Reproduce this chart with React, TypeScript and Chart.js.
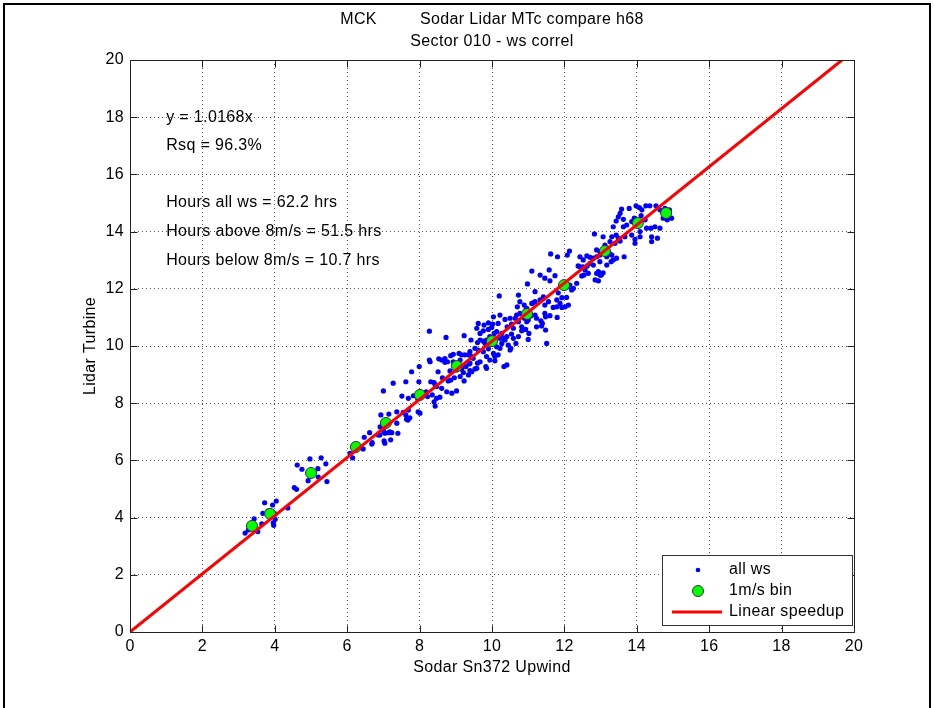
import React, { useEffect, useRef } from 'react';
import { Chart, registerables } from 'chart.js';

Chart.register(...registerables);

// ---------------- data ----------------
const titleLines = ['MCK         Sodar Lidar MTc compare h68', 'Sector 010 - ws correl'];
const xAxisTitle = 'Sodar Sn372 Upwind';
const yAxisTitle = 'Lidar Turbine';
const seriesLabels = ['all ws', '1m/s bin', 'Linear speedup'];
const annotationLines = [
  'y = 1.0168x',
  'Rsq = 96.3%',
  'Hours all ws = 62.2 hrs',
  'Hours above 8m/s = 51.5 hrs',
  'Hours below 8m/s = 10.7 hrs',
];

// all ws scatter: [Sodar ws, Lidar ws]
const allWs: [number, number][] = [
  [3.27, 3.57], [3.53, 3.51], [3.43, 3.96], [3.64, 3.78], [3.67, 4.15], [3.81, 4.23], [4.01, 4.13], [4.01, 3.94],
  [3.96, 3.82], [3.97, 3.73], [3.72, 4.52], [4.04, 4.58], [3.94, 4.44], [4.36, 4.34], [3.31, 3.67], [3.18, 3.46],
  [4.54, 5.05], [4.60, 4.99], [4.62, 5.84], [4.75, 5.69], [4.97, 6.05], [5.28, 6.09], [5.41, 5.88], [5.19, 5.71],
  [5.20, 5.42], [4.92, 5.29], [5.44, 5.26],
  [6.08, 6.25], [6.15, 6.09], [6.44, 6.40], [6.47, 6.81], [6.62, 6.97], [6.69, 6.62], [6.68, 6.57], [6.91, 7.17],
  [6.90, 6.89], [7.04, 6.95], [7.14, 6.97], [7.23, 6.97], [7.20, 6.72], [7.02, 6.68], [7.40, 6.95], [7.04, 6.60],
  [6.86, 6.89], [7.00, 7.04], [7.68, 7.41], [7.18, 7.00],
  [6.93, 7.59], [7.15, 7.62], [7.37, 7.70], [7.55, 7.68], [7.69, 7.76], [7.73, 7.49], [7.62, 7.59], [7.37, 7.30],
  [7.64, 7.44], [7.96, 7.70], [8.01, 7.65], [7.27, 8.70], [7.00, 8.43], [7.51, 8.25], [7.69, 8.17], [7.83, 8.26],
  [7.95, 8.15], [7.62, 8.75], [7.98, 8.75], [8.18, 8.40], [8.22, 8.23], [8.35, 8.29], [8.40, 8.05], [8.47, 8.17],
  [8.43, 7.90], [8.31, 8.75], [8.40, 8.72], [8.43, 8.64], [8.47, 8.58], [8.61, 8.52], [8.75, 8.40], [8.89, 8.35],
  [9.02, 8.43], [8.63, 8.89], [8.79, 8.78], [8.86, 8.81], [8.96, 8.89], [9.12, 8.93], [9.23, 8.78], [8.56, 8.21],
  [7.99, 9.28], [7.78, 9.10], [8.27, 9.51], [8.29, 9.45],
  [8.53, 9.55], [8.61, 9.51], [8.70, 9.56], [8.86, 9.66], [8.93, 9.71], [9.09, 9.74], [9.16, 9.69], [9.25, 9.69],
  [9.35, 9.69], [9.42, 9.65], [9.48, 9.57], [8.70, 9.43], [8.77, 9.45], [8.84, 9.13], [8.51, 9.10], [9.16, 9.19],
  [9.21, 9.07], [9.37, 9.37], [9.28, 9.28], [9.44, 9.10], [9.35, 8.99], [9.60, 9.40], [9.58, 9.22], [8.73, 10.30],
  [8.27, 10.52], [9.23, 10.36], [9.42, 10.21], [9.60, 10.12], [9.67, 10.21], [8.93, 9.45], [9.12, 9.51], [9.18, 9.28],
  [9.02, 9.16], [9.39, 9.14], [9.53, 9.20], [9.39, 9.40], [9.67, 9.45], [9.83, 9.28], [9.76, 10.17], [9.62, 9.86],
  [9.76, 9.80], [9.90, 9.90], [10.04, 9.74], [10.13, 9.97], [10.22, 9.92], [10.27, 10.09], [10.36, 10.21], [10.45, 10.03],
  [10.52, 9.92], [10.17, 9.69], [10.08, 9.48], [10.33, 9.28], [10.41, 9.34], [9.53, 9.92], [9.39, 9.80], [9.85, 9.63],
  [9.85, 9.22], [9.81, 10.09], [9.94, 9.51], [10.50, 9.86], [10.08, 9.63],
  [9.62, 10.79], [9.78, 10.73], [9.90, 10.81], [10.04, 11.02], [10.22, 11.08], [10.17, 10.79], [10.36, 10.93], [10.42, 10.67],
  [10.50, 10.97], [10.64, 10.97], [10.54, 10.77], [10.68, 11.08], [10.77, 11.14], [10.89, 11.43], [10.96, 11.32], [11.10, 11.49],
  [11.19, 11.55], [10.70, 11.37], [10.89, 10.97], [11.00, 10.91], [11.07, 11.05], [11.19, 11.08], [11.23, 10.97], [11.35, 10.88],
  [11.39, 10.79], [11.48, 11.02], [11.60, 11.06], [11.69, 11.35], [11.79, 11.37], [11.93, 11.35], [12.02, 11.37], [11.80, 11.00],
  [9.58, 10.62], [9.67, 10.44], [9.76, 10.53], [9.90, 10.58], [9.99, 10.65], [10.06, 10.44], [10.13, 10.50], [10.27, 10.44],
  [10.31, 10.27], [10.41, 10.33], [10.54, 10.42], [10.59, 10.27], [10.66, 10.09], [10.73, 10.33], [10.82, 10.53], [10.93, 10.58],
  [11.02, 10.44], [11.23, 10.67], [11.37, 10.70], [11.48, 10.56], [11.51, 10.09], [11.00, 10.23], [10.59, 10.62], [10.73, 10.85],
  [10.82, 10.67], [10.96, 10.85], [10.02, 10.77], [9.94, 10.33], [9.85, 10.21], [10.22, 10.27], [11.46, 11.14],
  [10.73, 11.78], [10.77, 11.55], [10.94, 11.26], [11.14, 11.51], [11.19, 11.90], [11.33, 11.61], [11.42, 11.72], [11.46, 11.43],
  [11.56, 11.55], [11.79, 11.61], [11.83, 11.86], [11.88, 11.49], [12.06, 11.70], [12.11, 11.43], [10.20, 11.75], [11.10, 12.62],
  [11.33, 12.48], [11.46, 12.37], [11.58, 12.66], [11.74, 12.46], [11.60, 12.28], [10.98, 12.17], [12.09, 12.07], [12.15, 12.13],
  [12.20, 11.96], [11.93, 11.69], [12.25, 12.02], [12.34, 12.19], [12.38, 12.80], [12.51, 12.77], [12.57, 12.66], [12.63, 12.80],
  [12.54, 12.48], [12.66, 12.54], [11.62, 13.22], [11.81, 13.12], [12.08, 13.18], [12.14, 13.32], [12.62, 13.15], [12.71, 13.10],
  [12.80, 13.07], [12.89, 13.12], [12.98, 13.18], [12.43, 12.77], [12.71, 12.89], [12.48, 12.45], [12.94, 12.60], [12.98, 12.48],
  [13.07, 12.56], [13.21, 13.30], [13.26, 13.22], [13.17, 13.12], [13.35, 13.01], [13.65, 13.12], [13.31, 13.18],
  [13.58, 14.79], [13.79, 14.81], [13.98, 14.90], [14.07, 14.84], [14.14, 14.76], [14.25, 14.90], [14.36, 14.90], [14.53, 14.90],
  [14.64, 14.76], [14.78, 14.81], [14.90, 14.76], [14.96, 14.47], [14.84, 14.41], [14.73, 14.47], [13.54, 14.64], [13.49, 14.52],
  [13.43, 14.37], [13.35, 14.17], [13.63, 14.43], [13.63, 14.17], [13.72, 14.23], [13.86, 14.35], [13.93, 14.47], [14.12, 14.56],
  [14.23, 14.41], [14.27, 14.12], [14.39, 14.12], [14.50, 14.17], [14.64, 14.12], [14.09, 14.00], [14.09, 13.82], [12.83, 13.92],
  [13.07, 13.82], [13.31, 13.82], [13.43, 13.88], [13.49, 13.77], [13.40, 13.59], [13.26, 13.65], [13.12, 13.53], [13.17, 13.42],
  [13.54, 13.67], [13.67, 13.82], [13.86, 13.88], [13.95, 13.73], [13.95, 13.59], [14.41, 13.82], [14.41, 13.65], [14.57, 13.77],
  [12.43, 13.12], [12.52, 13.01], [12.89, 13.36], [12.98, 13.30], [13.07, 13.24], [13.29, 12.95], [13.17, 12.83], [13.44, 13.07],
  [12.98, 12.95], [12.80, 12.83], [12.89, 12.54], [13.02, 12.48], [12.85, 12.31], [12.94, 12.28],
];

// 1 m/s bin averages
const binX = [3.37, 3.87, 5.0, 6.24, 7.07, 8.01, 9.03, 10.0, 10.97, 11.99, 13.12, 14.03, 14.81];
const binY = [3.71, 4.13, 5.56, 6.47, 7.31, 8.29, 9.3, 10.17, 11.12, 12.13, 13.32, 14.3, 14.65];

// linear speedup fit line endpoints (y = 1.0168x)
const lineX = [0, 19.67];
const lineY = [0, 20];

// axis ranges / ticks
const axisMin = 0;
const axisMax = 20;
const tickStep = 2;

// ---------------- styles ----------------
const FONT_FAMILY = "'Liberation Sans', Arial, Helvetica, sans-serif";
const FONT_SIZE = 16;
const LETTER_SPACING = '0.35px';

const matlabPlugin = {
  id: 'matlabLook',
  beforeDraw(chart: any) {
    (chart.ctx as any).letterSpacing = LETTER_SPACING;
  },
  afterDraw(chart: any) {
    const { ctx, chartArea: a, scales } = chart;
    const xs = scales.x;
    const ys = scales.y;
    ctx.save();
    (ctx as any).letterSpacing = LETTER_SPACING;

    // figure frame
    ctx.strokeStyle = '#000';
    ctx.lineWidth = 2;
    ctx.beginPath();
    ctx.moveTo(4, 720);
    ctx.lineTo(4, 4);
    ctx.lineTo(930, 4);
    ctx.lineTo(930, 720);
    ctx.stroke();

    // axes box
    const L = Math.round(a.left) + 0.5;
    const R = Math.round(a.right) + 0.5;
    const T = Math.round(a.top) + 0.5;
    const B = Math.round(a.bottom) + 0.5;
    ctx.lineWidth = 1;
    ctx.strokeStyle = '#222';
    ctx.beginPath();
    ctx.rect(L, T, R - L, B - T);
    ctx.stroke();

    // inner tick marks on all four sides
    const TL = 7;
    ctx.beginPath();
    xs.ticks.forEach((t: any) => {
      const px = Math.round(xs.getPixelForValue(t.value)) + 0.5;
      ctx.moveTo(px, B);
      ctx.lineTo(px, B - TL);
      ctx.moveTo(px, T);
      ctx.lineTo(px, T + TL);
    });
    ys.ticks.forEach((t: any) => {
      const py = Math.round(ys.getPixelForValue(t.value)) + 0.5;
      ctx.moveTo(L, py);
      ctx.lineTo(L + TL, py);
      ctx.moveTo(R, py);
      ctx.lineTo(R - TL, py);
    });
    ctx.stroke();

    // titles
    ctx.fillStyle = '#000';
    ctx.font = `${FONT_SIZE}px ${FONT_FAMILY}`;
    ctx.textAlign = 'center';
    ctx.textBaseline = 'middle';
    const cx = (a.left + a.right) / 2;
    ctx.fillText(titleLines[0], cx, 20);
    ctx.fillText(titleLines[1], cx, 42);
    ctx.fillText(xAxisTitle, cx, 668);
    ctx.save();
    ctx.translate(91, (a.top + a.bottom) / 2);
    ctx.rotate(-Math.PI / 2);
    ctx.fillText(yAxisTitle, 0, 0);
    ctx.restore();

    // annotations (anchored in data coordinates)
    const annX = 1;
    const annY = [18, 17, 15, 14, 13];
    ctx.textAlign = 'left';
    annotationLines.forEach((s, i) => {
      ctx.fillText(s, xs.getPixelForValue(annX), ys.getPixelForValue(annY[i]));
    });

    // legend box (bottom-right inside axes)
    const lw = 190;
    const lh = 70;
    const lx = Math.round(a.right) - 2 - lw;
    const ly = Math.round(a.bottom) - 7 - lh;
    ctx.fillStyle = '#fff';
    ctx.fillRect(lx, ly, lw, lh);
    ctx.strokeStyle = '#333';
    ctx.lineWidth = 1;
    ctx.strokeRect(lx + 0.5, ly + 0.5, lw, lh);
    const rowsY = [ly + 15, ly + 36, ly + 57];
    const mx = lx + 36;
    // all ws marker
    ctx.fillStyle = '#0000ff';
    ctx.beginPath();
    ctx.arc(mx, rowsY[0], 2.3, 0, Math.PI * 2);
    ctx.fill();
    // bin marker
    ctx.fillStyle = '#00ff00';
    ctx.strokeStyle = '#333';
    ctx.beginPath();
    ctx.arc(mx, rowsY[1], 5.5, 0, Math.PI * 2);
    ctx.fill();
    ctx.stroke();
    // line
    ctx.strokeStyle = '#ff0000';
    ctx.lineWidth = 3;
    ctx.beginPath();
    ctx.moveTo(lx + 10, rowsY[2]);
    ctx.lineTo(lx + 60, rowsY[2]);
    ctx.stroke();
    ctx.fillStyle = '#000';
    ctx.textAlign = 'left';
    chart.data.datasets.forEach((d: any, i: number) => {
      ctx.fillText(d.label, lx + 67, rowsY[i]);
    });

    ctx.restore();
  },
};

export default function App() {
  const canvasRef = useRef<HTMLCanvasElement | null>(null);

  useEffect(() => {
    const canvas = canvasRef.current;
    if (!canvas) return;
    const tickFont = { family: FONT_FAMILY, size: FONT_SIZE };
    const chart = new Chart(canvas, {
      type: 'scatter',
      data: {
        datasets: [
          {
            label: seriesLabels[0],
            data: allWs.map(([x, y]) => ({ x, y })),
            pointRadius: 2.6,
            pointBackgroundColor: '#0000ff',
            pointBorderWidth: 0,
            pointBorderColor: '#0000ff',
            showLine: false,
            order: 3,
          },
          {
            label: seriesLabels[1],
            data: binX.map((x, i) => ({ x, y: binY[i] })),
            pointRadius: 5.5,
            pointBackgroundColor: '#00ff00',
            pointBorderColor: '#333',
            pointBorderWidth: 1,
            showLine: false,
            order: 2,
          },
          {
            label: seriesLabels[2],
            data: lineX.map((x, i) => ({ x, y: lineY[i] })),
            showLine: true,
            borderColor: '#ff0000',
            borderWidth: 3,
            pointRadius: 0,
            order: 1,
          },
        ],
      } as any,
      options: {
        responsive: false,
        animation: false,
        events: [],
        layout: { padding: { left: 0, top: 60, right: 80, bottom: 0 } },
        plugins: {
          legend: { display: false },
          tooltip: { enabled: false },
          title: { display: false },
        },
        scales: {
          x: {
            type: 'linear',
            min: axisMin,
            max: axisMax,
            ticks: { stepSize: tickStep, padding: 5, color: '#000', font: tickFont, autoSkip: false, maxRotation: 0 },
            grid: { color: '#555', lineWidth: 1, drawTicks: false },
            border: { display: false, dash: [1, 3] },
            afterFit: (s: any) => {
              s.height = 76;
            },
          },
          y: {
            type: 'linear',
            min: axisMin,
            max: axisMax,
            ticks: { stepSize: tickStep, padding: 6, color: '#000', font: tickFont, autoSkip: false },
            grid: { color: '#555', lineWidth: 1, drawTicks: false },
            border: { display: false, dash: [1, 3] },
            afterFit: (s: any) => {
              s.width = 130;
            },
          },
        },
      } as any,
      plugins: [matlabPlugin],
    });
    return () => chart.destroy();
  }, []);

  return (
    <div style={{ position: 'absolute', left: 0, top: 0, width: 934, height: 708, background: '#fff' }}>
      <canvas ref={canvasRef} width={934} height={708} style={{ display: 'block' }} />
    </div>
  );
}
